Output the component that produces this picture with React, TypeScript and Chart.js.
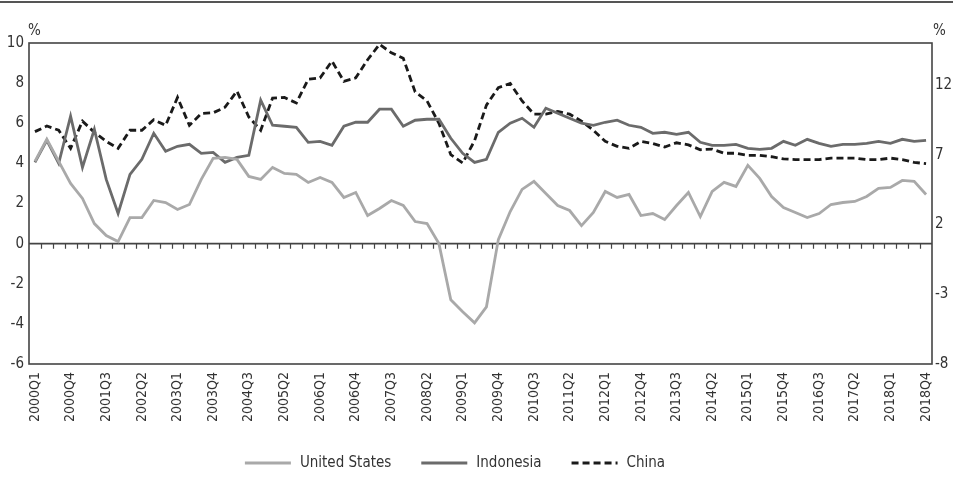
import React, { useEffect, useRef } from "react";
import { Chart, registerables } from "chart.js";

Chart.register(...registerables);

const quarters: string[] = [];
for (let y = 2000; y <= 2018; y++) {
  for (let q = 1; q <= 4; q++) quarters.push(`${y}Q${q}`);
}

const usGrowth = [
  4.1, 5.2, 4.1, 3.0, 2.25, 1.0, 0.4, 0.1, 1.3, 1.3, 2.15, 2.05, 1.7, 1.95, 3.2, 4.25,
  4.3, 4.2, 3.35, 3.2, 3.8, 3.5, 3.45, 3.05, 3.3, 3.05, 2.3, 2.55, 1.4, 1.75, 2.15, 1.9,
  1.1, 1.0, 0.0, -2.8, -3.4, -3.95, -3.15, 0.2, 1.6, 2.7, 3.1, 2.5, 1.9, 1.65, 0.9, 1.55,
  2.6, 2.3, 2.45, 1.4, 1.5, 1.2, 1.9, 2.55, 1.35, 2.6, 3.05, 2.85, 3.9, 3.25, 2.35, 1.8,
  1.55, 1.3, 1.5, 1.95, 2.05, 2.1, 2.35, 2.75, 2.8, 3.15, 3.1, 2.45,
];

const indonesiaGrowth = [
  4.05, 5.15, 4.0, 6.35, 3.8, 5.7, 3.2, 1.5, 3.45, 4.2, 5.5, 4.6, 4.85, 4.95, 4.5, 4.55,
  4.05, 4.3, 4.4, 7.15, 5.9, 5.85, 5.8, 5.05, 5.1, 4.9, 5.85, 6.05, 6.05, 6.7, 6.7, 5.85,
  6.15, 6.2, 6.2, 5.25, 4.5, 4.05, 4.2, 5.55, 6.0, 6.25, 5.8, 6.75, 6.5, 6.25, 6.0, 5.9,
  6.05, 6.15, 5.9, 5.8, 5.5, 5.55, 5.45, 5.55, 5.05, 4.9, 4.9, 4.95, 4.75, 4.7, 4.75, 5.1,
  4.9, 5.2, 5.0, 4.85, 4.95, 4.95, 5.0, 5.1, 5.0, 5.2, 5.1, 5.15,
];

const chinaGrowth = [
  8.65, 9.05, 8.75, 7.45, 9.4, 8.6, 7.95, 7.45, 8.75, 8.75, 9.5, 9.1, 11.1, 9.1, 9.95, 10.0,
  10.4, 11.55, 9.7, 8.75, 11.05, 11.1, 10.7, 12.4, 12.5, 13.7, 12.25, 12.5, 13.8, 14.9, 14.3, 13.9,
  11.5, 10.85, 9.25, 7.0, 6.4, 8.0, 10.55, 11.8, 12.1, 10.85, 9.9, 9.9, 10.1, 9.9, 9.4, 8.75,
  7.95, 7.6, 7.45, 7.95, 7.8, 7.55, 7.85, 7.7, 7.35, 7.4, 7.1, 7.1, 6.95, 6.95, 6.85, 6.7,
  6.65, 6.65, 6.65, 6.75, 6.75, 6.75, 6.65, 6.65, 6.75, 6.65, 6.45, 6.35,
];

const leftTicks = [-6, -4, -2, 0, 2, 4, 6, 8, 10];
const rightTicks = [-8, -3, 2, 7, 12];
const seriesNames = ["United States", "Indonesia", "China"];

const FONT = "'Liberation Sans Narrow', 'DejaVu Sans Condensed', 'Arial Narrow', sans-serif";
const TEXT = "#333333";
const FRAME = "#444444";

const framePlugin = {
  id: "frame",
  beforeDatasetsDraw(chart: any) {
    const { ctx, chartArea: a, scales } = chart;
    ctx.save();
    ctx.strokeStyle = FRAME;
    ctx.lineWidth = 1.6;
    ctx.strokeRect(a.left, a.top, a.right - a.left, a.bottom - a.top);
    const y0 = scales.y.getPixelForValue(0);
    ctx.beginPath();
    ctx.moveTo(a.left, y0);
    ctx.lineTo(a.right, y0);
    ctx.stroke();
    ctx.lineWidth = 1.2;
    ctx.beginPath();
    const xs = scales.x;
    for (let i = 1; i < quarters.length; i++) {
      const px = Math.round((xs.getPixelForValue(i - 1) + xs.getPixelForValue(i)) / 2) + 0.5;
      ctx.moveTo(px, y0);
      ctx.lineTo(px, y0 + 5);
    }
    ctx.stroke();
    ctx.restore();
  },
  afterDraw(chart: any) {
    const { ctx, chartArea: a, width } = chart;
    ctx.save();
    // top rule
    ctx.strokeStyle = "#555555";
    ctx.lineWidth = 2;
    ctx.beginPath();
    ctx.moveTo(0, 2);
    ctx.lineTo(width, 2);
    ctx.stroke();
    // % unit labels
    ctx.fillStyle = TEXT;
    ctx.font = `15px ${FONT}`;
    ctx.textBaseline = "middle";
    ctx.textAlign = "left";
    ctx.fillText("%", a.left - 1, 31);
    ctx.fillText("%", a.right + 1, 31);
    // legend
    const ds = chart.data.datasets;
    ctx.font = `15px ${FONT}`;
    const lineLen = 46;
    const textGap = 9;
    const itemGap = 30;
    const widths = ds.map((d: any) => lineLen + textGap + ctx.measureText(d.label).width);
    const total = widths.reduce((s: number, w: number) => s + w, 0) + itemGap * (ds.length - 1);
    let x = 455 - total / 2;
    const ly = 463;
    ds.forEach((d: any, i: number) => {
      ctx.strokeStyle = d.borderColor;
      ctx.lineWidth = d.borderWidth;
      ctx.setLineDash(d.borderDash || []);
      ctx.beginPath();
      ctx.moveTo(x, ly);
      ctx.lineTo(x + lineLen, ly);
      ctx.stroke();
      ctx.setLineDash([]);
      ctx.fillStyle = TEXT;
      ctx.fillText(d.label, x + lineLen + textGap, ly);
      x += widths[i] + itemGap;
    });
    ctx.restore();
  },
};

export default function App() {
  const canvasRef = useRef<HTMLCanvasElement | null>(null);

  useEffect(() => {
    document.body.style.margin = "0";
    const canvas = canvasRef.current;
    if (!canvas) return;
    const chart = new Chart(canvas, {
      type: "line",
      data: {
        labels: quarters,
        datasets: [
          {
            label: seriesNames[0],
            data: usGrowth,
            yAxisID: "y",
            borderColor: "#a9a9a9",
            borderWidth: 2.8,
            pointRadius: 0,
            tension: 0,
            fill: false,
          },
          {
            label: seriesNames[1],
            data: indonesiaGrowth,
            yAxisID: "y",
            borderColor: "#6b6b6b",
            borderWidth: 2.8,
            pointRadius: 0,
            tension: 0,
            fill: false,
          },
          {
            label: seriesNames[2],
            data: chinaGrowth,
            yAxisID: "y2",
            borderColor: "#1a1a1a",
            borderWidth: 2.8,
            borderDash: [7, 4],
            pointRadius: 0,
            tension: 0,
            fill: false,
          },
        ],
      },
      options: {
        responsive: false,
        animation: false,
        devicePixelRatio: 1,
        layout: { padding: { top: 43, left: 0, right: 0, bottom: 0 } },
        plugins: {
          legend: { display: false },
          tooltip: { enabled: false },
        },
        font: { family: FONT },
        scales: {
          x: {
            type: "category",
            offset: true,
            grid: { display: false, drawTicks: false },
            border: { display: false },
            ticks: {
              autoSkip: false,
              maxRotation: 90,
              minRotation: 90,
              padding: 8,
              color: TEXT,
              font: { family: FONT, size: 14 },
              callback: (_v: any, i: number) => (i % 3 === 0 ? quarters[i] : ""),
            },
            afterFit: (s: any) => {
              s.height = 130;
            },
          },
          y: {
            position: "left",
            min: leftTicks[0],
            max: leftTicks[leftTicks.length - 1],
            grid: { display: false, drawTicks: false },
            border: { display: false },
            ticks: { padding: 5, color: TEXT, font: { family: FONT, size: 15 } },
            afterBuildTicks: (s: any) => {
              s.ticks = leftTicks.map((v) => ({ value: v }));
            },
            afterFit: (s: any) => {
              s.width = 29;
            },
          },
          y2: {
            position: "right",
            min: -8,
            max: 15,
            grid: { display: false, drawTicks: false },
            border: { display: false },
            ticks: { padding: 3, color: TEXT, font: { family: FONT, size: 15 } },
            afterBuildTicks: (s: any) => {
              s.ticks = rightTicks.map((v) => ({ value: v }));
            },
            afterFit: (s: any) => {
              s.width = 21;
            },
          },
        },
      },
      plugins: [framePlugin],
    });
    return () => chart.destroy();
  }, []);

  return (
    <div style={{ width: 953, height: 494, position: "relative" }}>
      <canvas ref={canvasRef} width={953} height={494} style={{ display: "block" }} />
    </div>
  );
}
